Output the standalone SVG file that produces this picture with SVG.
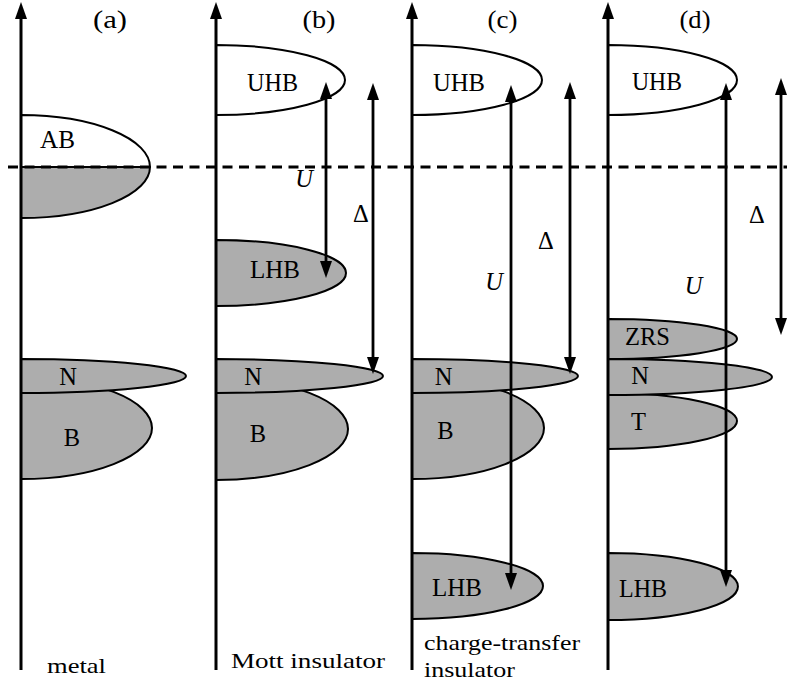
<svg xmlns="http://www.w3.org/2000/svg" width="787" height="686" viewBox="0 0 787 686">
<style>
.band{stroke:#000;stroke-width:2;stroke-linejoin:round}
.g{fill:#adadad}
.w{fill:#fff}
.ax{stroke:#000;stroke-width:3;fill:none}
.ar{stroke:#000;stroke-width:2.8;fill:none}
text{font-family:"Liberation Serif","DejaVu Serif","Times New Roman",serif;fill:#000}
.lbl{font-size:24.5px;text-anchor:middle}
.it{font-style:italic}
.cap{font-size:21px}
.dash{stroke:#000;stroke-width:3;stroke-dasharray:10 6.5;fill:none}
</style>
<defs>
<marker id="ah" markerUnits="userSpaceOnUse" viewBox="0 0 17 12" markerWidth="17" markerHeight="12" refX="7" refY="6" orient="auto-start-reverse">
<path d="M0,0 L17,6 L0,12 Z" fill="#000"/>
</marker>
</defs>

<g id="panel-a">
<g id="a-B"><path class="band g" d="M21,377 A131,51 0 0 1 21,479 Z"/><text class="lbl" x="72" y="446">B</text></g>
<g id="a-N"><path class="band g" d="M21,359 A165,17 0 0 1 21,393 Z"/><text class="lbl" x="68" y="385">N</text></g>
<g id="a-AB">
<path class="band w" d="M21,115 A129,52 0 0 1 150,167 L21,167 Z"/>
<path class="band g" d="M21,167 L150,167 A129,51 0 0 1 21,218 Z"/>
<text class="lbl" x="57.5" y="148" textLength="35" lengthAdjust="spacingAndGlyphs">AB</text>
</g>
<text class="lbl" x="110" y="28" textLength="34" lengthAdjust="spacingAndGlyphs">(a)</text>
<text class="cap" x="47" y="673" textLength="59" lengthAdjust="spacingAndGlyphs">metal</text>
</g>

<g id="panel-b">
<g id="b-UHB"><path class="band w" d="M216,45 A129,35 0 0 1 216,115 Z"/><text class="lbl" x="272.5" y="91" textLength="51" lengthAdjust="spacingAndGlyphs">UHB</text></g>
<g id="b-LHB"><path class="band g" d="M216,240 A130,33 0 0 1 216,306 Z"/><text class="lbl" x="275" y="278" textLength="50" lengthAdjust="spacingAndGlyphs">LHB</text></g>
<g id="b-B"><path class="band g" d="M216,378 A132,51 0 0 1 216,480 Z"/><text class="lbl" x="258" y="442">B</text></g>
<g id="b-N"><path class="band g" d="M216,359 A167,17 0 0 1 216,393 Z"/><text class="lbl" x="253" y="385">N</text></g>
<text class="lbl" x="319" y="28" textLength="33" lengthAdjust="spacingAndGlyphs">(b)</text>
<text class="cap" x="231" y="668" textLength="154" lengthAdjust="spacingAndGlyphs">Mott insulator</text>
</g>

<g id="panel-c">
<g id="c-UHB"><path class="band w" d="M412,45 A130,35 0 0 1 412,115 Z"/><text class="lbl" x="459" y="91" textLength="52" lengthAdjust="spacingAndGlyphs">UHB</text></g>
<g id="c-B"><path class="band g" d="M412,377 A132,51 0 0 1 412,479 Z"/><text class="lbl" x="445.5" y="439">B</text></g>
<g id="c-N"><path class="band g" d="M412,359 A166,17 0 0 1 412,393 Z"/><text class="lbl" x="443.5" y="385">N</text></g>
<g id="c-LHB"><path class="band g" d="M412,553 A131,33 0 0 1 412,619 Z"/><text class="lbl" x="457" y="596" textLength="50" lengthAdjust="spacingAndGlyphs">LHB</text></g>
<text class="lbl" x="502.5" y="28" textLength="30" lengthAdjust="spacingAndGlyphs">(c)</text>
<text class="cap" x="424" y="650" textLength="156" lengthAdjust="spacingAndGlyphs">charge-transfer</text>
<text class="cap" x="424" y="677" textLength="91" lengthAdjust="spacingAndGlyphs">insulator</text>
</g>

<g id="panel-d">
<g id="d-UHB"><path class="band w" d="M608,45 A129,35 0 0 1 608,115 Z"/><text class="lbl" x="657" y="90" textLength="50" lengthAdjust="spacingAndGlyphs">UHB</text></g>
<g id="d-T"><path class="band g" d="M608,393 A129,28 0 0 1 608,449 Z"/><text class="lbl" x="638.5" y="430">T</text></g>
<g id="d-ZRS"><path class="band g" d="M608,319 A129,20 0 0 1 608,359 Z"/><text class="lbl" x="647.5" y="345" textLength="45" lengthAdjust="spacingAndGlyphs">ZRS</text></g>
<g id="d-N"><path class="band g" d="M608,359 A164,18 0 0 1 608,395 Z"/><text class="lbl" x="640" y="384">N</text></g>
<g id="d-LHB"><path class="band g" d="M608,553 A128,33 0 0 1 608,620 Z"/><text class="lbl" x="643" y="597" textLength="48" lengthAdjust="spacingAndGlyphs">LHB</text></g>
<text class="lbl" x="695" y="28" textLength="31" lengthAdjust="spacingAndGlyphs">(d)</text>
</g>

<line id="fermi" class="dash" x1="8" y1="167" x2="787" y2="167"/>

<g id="connectors">
<line class="ax" x1="21" y1="670" x2="21" y2="12" marker-end="url(#ah)"/>
<line class="ax" x1="216" y1="670" x2="216" y2="12" marker-end="url(#ah)"/>
<line class="ax" x1="412" y1="670" x2="412" y2="12" marker-end="url(#ah)"/>
<line class="ax" x1="608" y1="670" x2="608" y2="12" marker-end="url(#ah)"/>
<line class="ar" x1="326" y1="92" x2="326" y2="268" marker-start="url(#ah)" marker-end="url(#ah)"/>
<line class="ar" x1="373" y1="93" x2="373" y2="364" marker-start="url(#ah)" marker-end="url(#ah)"/>
<line class="ar" x1="511" y1="95" x2="511" y2="580" marker-start="url(#ah)" marker-end="url(#ah)"/>
<line class="ar" x1="570" y1="92" x2="570" y2="364" marker-start="url(#ah)" marker-end="url(#ah)"/>
<line class="ar" x1="726" y1="93" x2="726" y2="577" marker-start="url(#ah)" marker-end="url(#ah)"/>
<line class="ar" x1="781" y1="88" x2="781" y2="325" marker-start="url(#ah)" marker-end="url(#ah)"/>
</g>

<g id="gap-labels">
<text class="lbl it" x="304" y="187">U</text>
<text class="lbl" x="361" y="222">Δ</text>
<text class="lbl" x="546" y="249">Δ</text>
<text class="lbl it" x="494" y="290">U</text>
<text class="lbl" x="757" y="223">Δ</text>
<text class="lbl it" x="693.5" y="294">U</text>
</g>
</svg>
